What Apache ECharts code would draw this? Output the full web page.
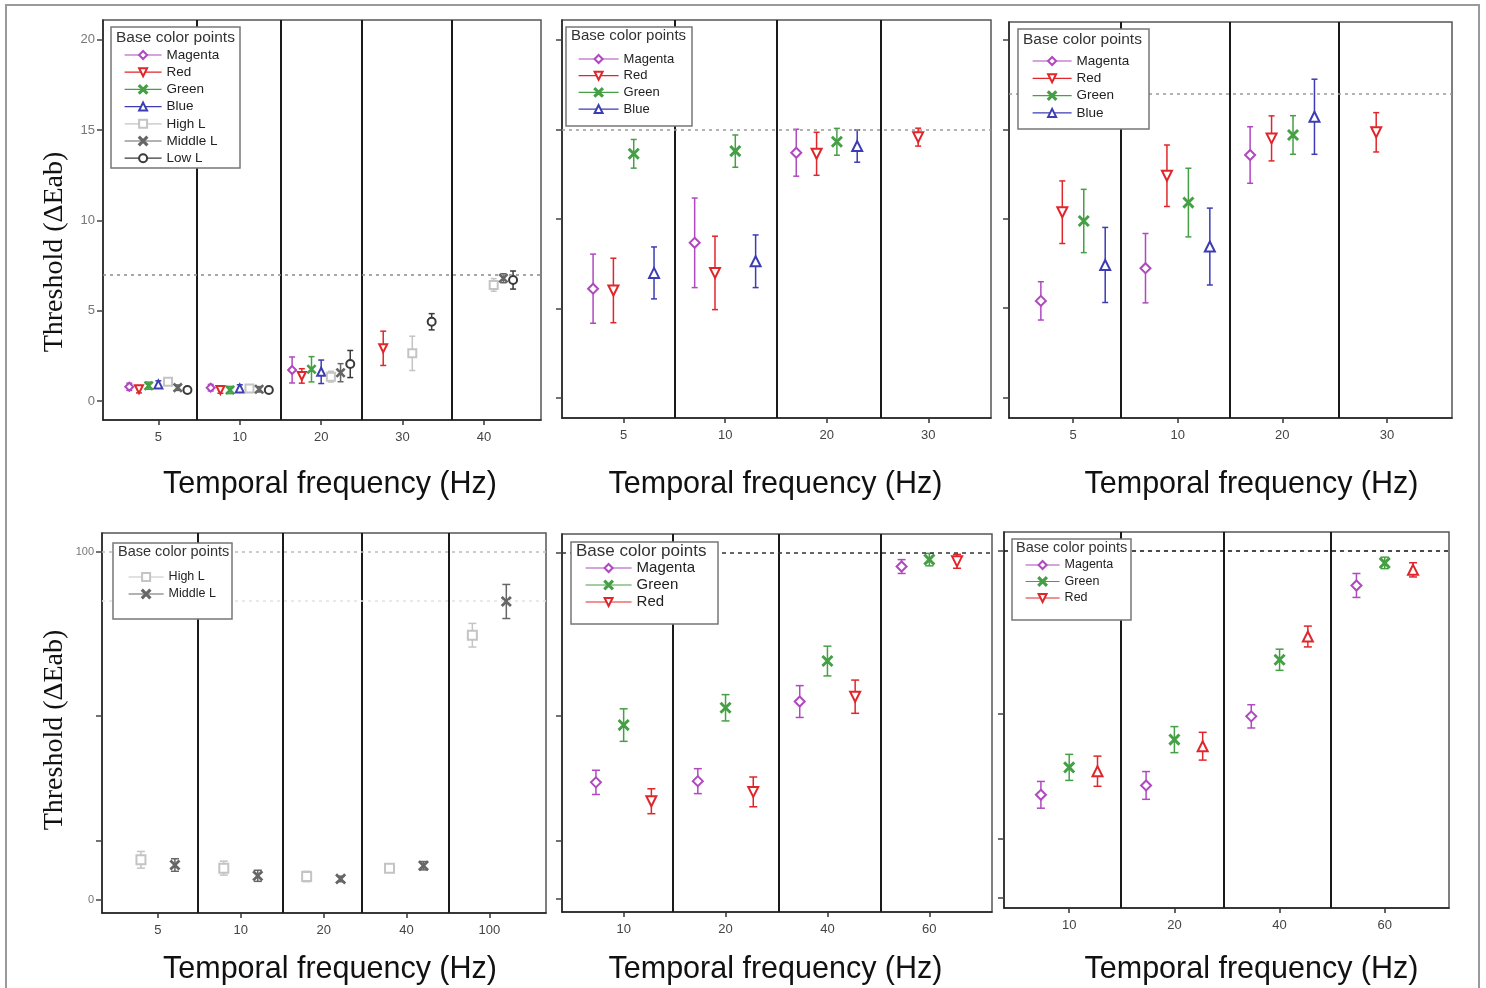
<!DOCTYPE html>
<html><head><meta charset="utf-8">
<script src="https://cdn.jsdelivr.net/npm/echarts@6/dist/echarts.min.js"></script>
<style>html,body{margin:0;padding:0;background:#fff}#c{width:1486px;height:988px}</style>
</head><body><div id="c"></div><script>
// ---------- data: [mean, half error] per frequency group (null = not measured) ----------
const P1_TICKS = ['5','10','20','30','40'];
const P1_MAGENTA = [[0.79,0.20],[0.74,0.18],[1.72,0.72],null,null];
const P1_RED     = [[0.65,0.20],[0.61,0.18],[1.39,0.40],[2.92,0.95],null];
const P1_GREEN   = [[0.85,0.20],[0.61,0.20],[1.76,0.70],null,null];
const P1_BLUE    = [[0.92,0.20],[0.70,0.20],[1.62,0.65],null,null];
const P1_HIGHL   = [[1.07,0.15],[0.70,0.15],[1.35,0.30],[2.64,0.95],[6.43,0.35]];
const P1_MIDDLEL = [[0.74,0.15],[0.65,0.15],[1.57,0.50],null,[6.80,0.25]];
const P1_LOWL    = [[0.61,0.15],[0.61,0.15],[2.05,0.75],[4.39,0.45],[6.70,0.50]];

const P2_TICKS = ['5','10','20','30'];
const P2_MAGENTA = [[6.10,1.93],[8.66,2.50],[13.69,1.31],null];
const P2_RED     = [[6.00,1.80],[6.98,2.05],[13.63,1.20],[14.56,0.50]];
const P2_GREEN   = [[13.63,0.80],[13.78,0.90],[14.30,0.75],null];
const P2_BLUE    = [[6.98,1.45],[7.63,1.47],[14.06,0.90],null];

const P3_TICKS = ['5','10','20','30'];
const P3_MAGENTA = [[5.40,1.07],[7.23,1.94],[13.56,1.58],null];
const P3_RED     = [[10.36,1.75],[12.40,1.72],[14.49,1.26],[14.83,1.10]];
const P3_GREEN   = [[9.87,1.77],[10.90,1.92],[14.68,1.08],null];
const P3_BLUE    = [[7.41,2.10],[8.44,2.15],[15.70,2.10],null];

const P4_TICKS = ['5','10','20','40','100'];
const P4_HIGHL   = [[11.5,2.4],[9.1,2.0],[6.7,1.5],[9.1,1.2],[76.1,3.4]];
const P4_MIDDLEL = [[10.0,1.8],[6.9,1.6],[6.0,0.8],[9.8,1.2],[85.8,4.9]];

const P5_TICKS = ['10','20','40','60'];
const P5_MAGENTA = [[33.75,3.5],[34.1,3.6],[57.1,4.6],[96.1,2.0]];
const P5_GREEN   = [[50.3,4.7],[55.3,3.8],[68.8,4.3],[98.1,1.8]];
const P5_RED     = [[28.3,3.6],[31.0,4.3],[58.5,4.8],[97.6,2.0]];

const P6_TICKS = ['10','20','40','60'];
const P6_MAGENTA = [[29.7,3.85],[32.4,4.0],[52.3,3.35],[90.0,3.45]];
const P6_GREEN   = [[37.6,3.75],[45.6,3.75],[68.6,3.05],[96.5,1.65]];
const P6_RED     = [[36.5,4.35],[43.7,4.0],[75.3,3.0],[94.5,2.05]];

const TOP_Y_TICKS = [0,5,10,15,20];
const BOTTOM_Y_TICKS = [0,17,53,100];
const BOTTOM_Y_LABELS = [0,100];

const LEGEND_TITLE = 'Base color points';
const X_NAME = 'Temporal frequency (Hz)';
const Y_NAME = 'Threshold (ΔEab)';

// ---------- styles ----------
const COLORS = {'Magenta':'#b048c0','Red':'#e0262a','Green':'#45a045','Blue':'#3c3cb4','High L':'#c4c4c4','Middle L':'#666666','Low L':'#3a3a3a'};
const X_PATH = 'path://M0,1L1,0L5,4L9,0L10,1L6,5L10,9L9,10L5,6L1,10L0,9L4,5Z';
const SYMBOLS = {'Magenta':['emptyDiamond',0],'Red':['emptyTriangle',180],'Green':[X_PATH,0],'Blue':['emptyTriangle',0],'High L':['emptyRect',0],'Middle L':[X_PATH,0],'Low L':['emptyCircle',0]};

const PANELS = [
  {ticks:P1_TICKS, series:[['Magenta',P1_MAGENTA],['Red',P1_RED],['Green',P1_GREEN],['Blue',P1_BLUE],['High L',P1_HIGHL],['Middle L',P1_MIDDLEL],['Low L',P1_LOWL]],
   grid:[103,20,438,400], x:[0.32,5.70], y:[-1.05,21.1], sep:[1.47,2.5,3.5,4.6], slot:0.119, sym:8, cap:3,
   yTicks:TOP_Y_TICKS, yLabels:TOP_Y_TICKS, hlines:[[7,'#8a8a8a',[3,4]]],
   box:[111,27,129,141], title:[116,38,15.5], legend:[124,55,37,13.5,3.2]},
  {ticks:P2_TICKS, series:[['Magenta',P2_MAGENTA],['Red',P2_RED],['Green',P2_GREEN],['Blue',P2_BLUE]],
   grid:[562,20,429,398], x:[0.394,4.617], y:[-1.12,21.1], sep:[1.5,2.51,3.53], slot:0.2, sym:10, cap:3,
   yTicks:TOP_Y_TICKS, yLabels:null, hlines:[[15,'#999',[3,4]]],
   box:[566,27,126,99], title:[571,37,15], legend:[578,59,40,13,3.7]},
  {ticks:P3_TICKS, series:[['Magenta',P3_MAGENTA],['Red',P3_RED],['Green',P3_GREEN],['Blue',P3_BLUE]],
   grid:[1009,22,443,396], x:[0.388,4.622], y:[-1.15,21.0], sep:[1.46,2.5,3.54], slot:0.205, sym:10, cap:3,
   yTicks:TOP_Y_TICKS, yLabels:null, hlines:[[17,'#999',[3,4]]],
   box:[1018,29,131,100], title:[1023,40,15.5], legend:[1032,61,39,13.5,3.3]},
  {ticks:P4_TICKS, series:[['High L',P4_HIGHL],['Middle L',P4_MIDDLEL]],
   grid:[102,533,444,380], x:[0.325,5.684], y:[-3.8,105.5], sep:[1.48,2.51,3.46,4.51], slot:0.41, sym:9, cap:4,
   yTicks:BOTTOM_Y_TICKS, yLabels:BOTTOM_Y_LABELS, hlines:[[100,'#bdbdbd',[3,4]],[86,'#e2e2e2',[3,4]]],
   box:[113,543,119,76], title:[118,553,14.5], legend:[128,577,35,12.5,4]},
  {ticks:P5_TICKS, series:[['Magenta',P5_MAGENTA],['Green',P5_GREEN],['Red',P5_RED]],
   grid:[562,534,430,378], x:[0.395,4.615], y:[-3.7,105.5], sep:[1.48,2.52,3.52], slot:0.272, sym:10, cap:4,
   yTicks:BOTTOM_Y_TICKS, yLabels:null, hlines:[[100,'#333',[4,4]]],
   box:[571,542,147,82], title:[576,552,17], legend:[585,568,46,15,2]},
  {ticks:P6_TICKS, series:[['Magenta',P6_MAGENTA],['Green',P6_GREEN],['Red',P6_RED]],
   grid:[1004,532,445,376], x:[0.38,4.611], y:[-2.9,105.4], sep:[1.49,2.47,3.49], slot:0.269, sym:10, cap:4,
   yTicks:BOTTOM_Y_TICKS, yLabels:null, hlines:[[100,'#111',[4,4]]], redUp:true,
   box:[1012,539,119,81], title:[1016,549,14.5], legend:[1025,565,34,12.5,3.5]}
];

function errRender(color, cap){
  return function(params, api){
    const x = api.value(0), lo = api.value(1), hi = api.value(2);
    const a = api.coord([x, hi]), b = api.coord([x, lo]);
    const st = {stroke: color, lineWidth: 1.5};
    return {type:'group', children:[
      {type:'line', shape:{x1:a[0],y1:a[1],x2:b[0],y2:b[1]}, style:st},
      {type:'line', shape:{x1:a[0]-cap,y1:a[1],x2:a[0]+cap,y2:a[1]}, style:st},
      {type:'line', shape:{x1:b[0]-cap,y1:b[1],x2:b[0]+cap,y2:b[1]}, style:st}
    ]};
  };
}

const SANS = '"Liberation Sans", Arial, Helvetica, sans-serif';
const SERIF = '"Liberation Serif", "Times New Roman", serif';

const grids=[], xAxes=[], yAxes=[], series=[], legends=[], titles=[], graphics=[];

graphics.push({type:'rect', shape:{x:6,y:5,width:1473,height:1010}, style:{fill:'none',stroke:'#9a9a9a',lineWidth:2}, z:1, silent:true});

PANELS.forEach((p, i) => {
  const [gl, gt, gw, gh] = p.grid;
  grids.push({left:gl, top:gt, width:gw, height:gh, show:true, borderColor:'#555', borderWidth:1.5, backgroundColor:'transparent', containLabel:false, outerBoundsMode:'none'});
  const groupVals = p.ticks.map((t, k) => k + 1);
  const ticks = p.ticks;
  xAxes.push({type:'value', gridIndex:i, min:p.x[0], max:p.x[1],
    axisLine:{show:true, onZero:false, lineStyle:{color:'#222', width:1.5}},
    axisTick:{show:true, customValues:groupVals, length:5, lineStyle:{color:'#333', width:1.5}},
    axisLabel:{show:true, customValues:groupVals, formatter:(v)=>ticks[Math.round(v)-1], fontSize:13, color:'#444', margin:11, fontFamily:SANS},
    splitLine:{show:false}});
  yAxes.push({type:'value', gridIndex:i, min:p.y[0], max:p.y[1],
    axisLine:{show:true, onZero:false, lineStyle:{color:'#222', width:1.5}},
    axisTick:{show:true, customValues:p.yTicks, length:6, lineStyle:{color:'#444', width:1.5}},
    axisLabel:{show:!!p.yLabels, customValues:p.yLabels || [], fontSize:i===0?13:11, color:'#777', margin:8, fontFamily:SANS},
    splitLine:{show:false}});

  const n = p.series.length;
  p.series.forEach(([name, vals], s) => {
    const off = (s - (n - 1) / 2) * p.slot;
    const pts = [], errs = [];
    vals.forEach((v, k) => {
      if (!v) return;
      const gx = k + 1 + off;
      pts.push([gx, v[0]]);
      errs.push([gx, v[0] - v[1], v[0] + v[1]]);
    });
    const color = COLORS[name];
    let [sym, rot] = SYMBOLS[name];
    if (p.redUp && name === 'Red') rot = 0;
    series.push({type:'custom', xAxisIndex:i, yAxisIndex:i, renderItem:errRender(color, p.cap), data:errs, encode:{x:0, y:[1,2]}, silent:true, z:2, animation:false});
    const ls = {type:'line', name:name, xAxisIndex:i, yAxisIndex:i, data:pts, symbol:sym, symbolRotate:rot, symbolSize:p.sym, showSymbol:true,
      lineStyle:{opacity:0, color:color}, itemStyle:{color:color, borderColor:color, borderWidth:1.5}, z:3, silent:true, animation:false};
    if (s === 0) {
      const md = p.sep.map(v => ({xAxis:v, lineStyle:{color:'#1a1a1a', width:2, type:'solid'}}));
      p.hlines.forEach(([y, c, t]) => md.push({yAxis:y, lineStyle:{color:c, width:1.5, type:t}}));
      ls.markLine = {symbol:['none','none'], silent:true, animation:false, label:{show:false}, data:md};
    }
    series.push(ls);
  });

  // legend box
  const [bx, by, bw, bh] = p.box;
  graphics.push({type:'rect', shape:{x:bx, y:by, width:bw, height:bh}, style:{fill:'#fff', stroke:'#777', lineWidth:1.5}, z:10, silent:true});
  titles.push({text:LEGEND_TITLE, left:p.title[0], top:p.title[1] - p.title[2]/2 - 1, padding:0, z:20,
    textStyle:{fontSize:p.title[2], fontWeight:'normal', color:'#333', fontFamily:SANS}});
  const [lx, lc, lw, lf, lg] = p.legend;
  legends.push({show:true, orient:'vertical', left:lx, top:lc - Math.ceil(lf)/2, padding:0, itemGap:lg, itemWidth:lw, itemHeight:10, z:20,
    selectedMode:false, data:p.series.map(s => s[0]),
    lineStyle:{opacity:1, width:1.2}, textStyle:{fontSize:lf, lineHeight:13, color:'#222', fontFamily:SANS}});
});

// axis names
[[330,485],[775.5,485],[1251.5,485],[330,970],[775.5,970],[1251.5,970]].forEach(([x,y]) => {
  graphics.push({type:'text', x:x, y:y, z:5, silent:true, style:{text:X_NAME, font:'30.5px ' + SANS, fill:'#111', align:'center', verticalAlign:'middle', textAlign:'center', textVerticalAlign:'middle'}});
});
[[55,252],[55,730]].forEach(([x,y]) => {
  graphics.push({type:'text', x:x, y:y, rotation:Math.PI/2, z:5, silent:true, style:{text:Y_NAME, font:'28px ' + SERIF, fill:'#111', align:'center', verticalAlign:'middle', textAlign:'center', textVerticalAlign:'middle'}});
});

const chart = echarts.init(document.getElementById('c'), null, {renderer:'canvas'});
chart.setOption({
  animation:false,
  backgroundColor:'#fff',
  title:titles,
  legend:legends,
  grid:grids,
  xAxis:xAxes,
  yAxis:yAxes,
  series:series,
  graphic:{elements:graphics}
});
</script></body></html>
